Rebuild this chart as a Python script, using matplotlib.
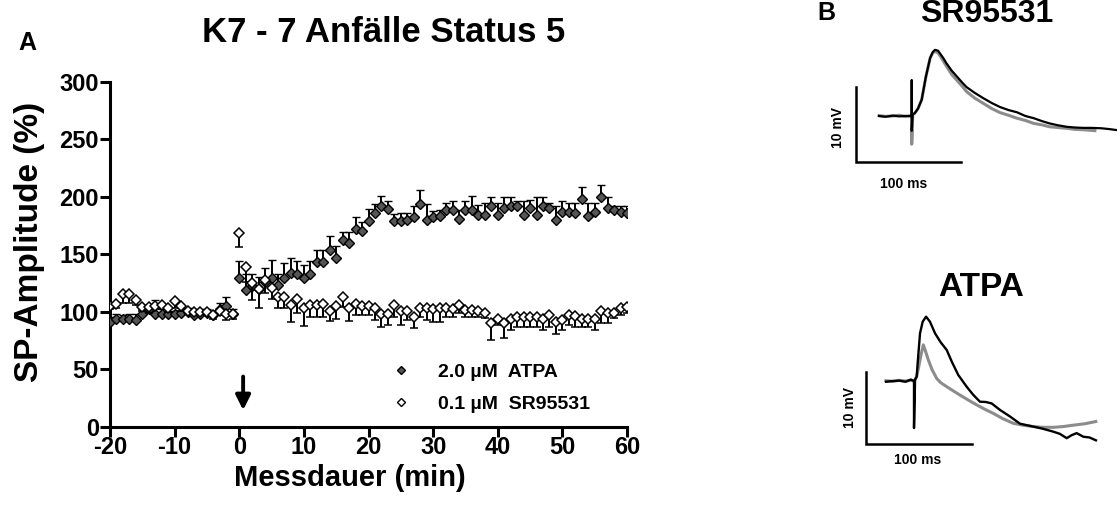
import matplotlib
matplotlib.use("Agg")
import matplotlib.pyplot as plt
from matplotlib.lines import Line2D
import numpy as np

plt.rcParams["font.family"] = ["Liberation Sans", "DejaVu Sans"]
plt.rcParams["font.weight"] = "bold"
plt.rcParams["axes.unicode_minus"] = False

# Zeitachse (min): Baseline -20..-1, danach 0..60
minuten = np.arange(-20, 61)

atpa_mw = [91, 94, 94, 94, 93, 98, 102, 98, 98, 98, 98, 99, 100, 97, 98, 99, 97, 102, 105, 98,
           129, 119, 122, 119.5, 126, 129, 123, 129, 134, 133, 129, 133, 143, 143.5, 154, 147,
           162, 160, 172, 170, 178.5, 186, 191.5, 189, 179, 179, 180, 182.6, 193.6, 179.5,
           182.6, 183, 188.6, 188, 181, 188, 188.6, 184, 184, 192, 184, 190, 192, 191.5, 184,
           190, 184, 191.5, 190, 180, 187, 187, 186, 198, 183, 187, 200, 190, 188, 187, 186]
atpa_sem = [4, 4, 3, 4, 5, 4, 4, 12, 4, 5, 3, 4, 3, 3, 4, 3, 3, 6, 8, 4,
            15, 14, 11, 10.5, 12, 16, 10, 13, 12.5, 11, 12, 11, 11, 10.5, 12, 10.5, 7, 9, 10,
            8, 10.5, 8, 9.5, 7, 6, 7, 6, 9, 12.5, 14, 5, 5, 5.5, 8, 7.7, 8, 11.6, 9, 10.5, 8,
            10.5, 10, 8, 4.5, 12, 7, 15.7, 8, 4.5, 11.6, 9, 7.5, 8.5, 10.4, 11.5, 7.5, 10.5,
            9.7, 3.6, 5, 6]

sr_mw = [105, 107, 115, 115, 110, 104, 104, 105, 106, 103, 109, 105, 101, 100, 100, 100, 97, 101, 98, 98,
         168, 139, 125, 120, 128, 121, 113, 112.5, 106, 111, 103, 106, 106, 107, 101, 105, 113,
         103, 107, 105, 105, 103, 98, 98, 106, 101, 101, 95.6, 103, 103, 102, 103, 103, 102,
         106, 101.5, 101.5, 101, 98.5, 90, 94, 90, 94, 95, 95, 95, 95, 94, 97, 91, 93, 97, 96,
         94, 94, 94, 101, 98.5, 98.5, 103, 104]
sr_sem = [3, 4, 7, 7, 4, 3, 5, 3, 4, 3, 6, 4, 3, 2, 2, 3, 3, 4, 5, 4,
          12, 13, 15, 17, 12, 10, 10, 9.5, 15, 12.5, 15, 11, 11, 12, 9, 11, 9, 11, 10, 8, 8,
          10, 11, 9.6, 10.4, 12.6, 8.3, 10, 7.4, 10.3, 10.7, 11.7, 7.4, 6.4, 7.5, 6, 6, 5.4,
          4.3, 15, 5.6, 13, 10, 8, 8, 8, 8, 10, 10, 10, 9, 8.6, 9, 7, 7, 10, 11, 8.7, 4.3, 6, 5]

legende = ["2.0 µM  ATPA", "0.1 µM  SR95531"]

# Beispielspuren (ms, mV), Reiz bei 0 ms
sr_dunkel_ms = [-31, -25, -18, -12, -6, -2, 0, 0, 0, 1, 3, 6, 9.5, 13.5, 17.5, 20, 22, 25, 27, 30,
                33, 38, 43, 48, 52, 60, 68, 76, 84, 92, 100, 108, 116, 124, 131, 139, 147, 155,
                163, 171, 180, 187, 195]
sr_dunkel_mv = [0, -0.1, 0.05, -0.05, 0, 0, 0, 4.8, -2, 0.2, 0.4, 1.0, 2.2, 5.3, 7.8, 8.6, 8.9,
                8.8, 8.4, 7.8, 7.1, 6.1, 5.3, 4.5, 3.9, 3.1, 2.4, 1.75, 1.2, 0.8, 0.5, 0.0, -0.3,
                -0.7, -1.0, -1.25, -1.45, -1.55, -1.6, -1.6, -1.65, -1.75, -1.9]
sr_grau_ms = [-31, -25, -18, -12, -6, -2, 0, 0, 1, 3, 6, 9.5, 13.5, 17.5, 20, 22, 25, 27, 30, 33,
              38, 43, 48, 52, 60, 68, 76, 84, 92, 100, 108, 116, 124, 131, 139, 147, 155, 163, 174]
sr_grau_mv = [0.05, -0.05, 0.0, 0.1, -0.05, 0, 0, -3.8, 0.2, 0.4, 1.0, 2.2, 5.3, 7.8, 8.5, 8.7,
              8.5, 8.1, 7.4, 6.7, 5.6, 4.8, 4.0, 3.3, 2.4, 1.7, 1.0, 0.45, 0.1, -0.3, -0.6, -1.0,
              -1.2, -1.45, -1.55, -1.65, -1.8, -1.85, -1.97]

atpa_dunkel_ms = [-26.5, -20, -14, -8, -3, 0, 0, 1, 2.5, 4, 5.7, 8.2, 11.4, 15.1, 19.9, 25, 30.9,
                  36, 41.9, 49.8, 56, 62.4, 68, 73.5, 81.4, 90.8, 100.3, 112.9, 122, 131.8, 138,
                  144.5, 149, 153.9, 160.2, 166, 172.2]
atpa_dunkel_mv = [-0.1, 0.0, 0.05, -0.1, 0.2, 0, -6.5, 0.2, 0.6, 3.5, 6.6, 8.2, 8.9, 8.2, 6.6,
                  5.4, 4.3, 2.6, 0.83, -0.78, -1.9, -2.86, -2.9, -3.1, -4.0, -4.9, -5.9, -6.3,
                  -6.6, -7.0, -7.3, -7.9, -7.5, -7.2, -7.7, -7.8, -8.2]
atpa_grau_ms = [-26.5, -20, -14, -8, -3, 0, 1, 2.5, 4.5, 6.3, 8.8, 10.5, 13.6, 17, 21.4, 25, 30.9,
                37, 43.5, 51, 59.3, 67, 75, 84, 94, 103, 113, 122, 132, 141, 151, 162, 172]
atpa_grau_mv = [0.05, -0.05, 0.1, 0.0, 0.1, 0, 0.2, 0.6, 2.0, 3.4, 5.0, 4.3, 2.9, 1.6, 0.37, -0.2,
                -0.78, -1.35, -1.94, -2.6, -3.3, -3.9, -4.47, -5.2, -5.85, -6.1, -6.3, -6.4,
                -6.4, -6.3, -6.1, -5.9, -5.6]

W, H = 1117, 508
fig = plt.figure(figsize=(W / 100, H / 100), dpi=100)

# --- A: Zeitverlauf ---
ax = fig.add_axes([110 / W, (H - 426.7) / H, 517 / W, 345 / H])
null_a = np.zeros(len(atpa_sem))
null_s = np.zeros(len(sr_sem))
ax.errorbar(minuten, atpa_mw, yerr=[null_a, atpa_sem], fmt="D", ms=4.8, mfc="#555555",
            mec="black", mew=1.0, ecolor="black", elinewidth=1.4, capsize=3, capthick=1.9,
            zorder=3)
ax.errorbar(minuten, sr_mw, yerr=[sr_sem, null_s], fmt="D", ms=4.8, mfc="white",
            mec="black", mew=1.1, ecolor="black", elinewidth=1.4, capsize=3, capthick=1.9,
            zorder=4)

ax.set_xlim(-20, 60)
ax.set_ylim(0, 300)
ax.set_xticks(range(-20, 61, 10))
ax.set_yticks(range(0, 301, 50))
for s in ["top", "right"]:
    ax.spines[s].set_visible(False)
for s in ["left", "bottom"]:
    ax.spines[s].set_linewidth(2.2)
ax.tick_params(width=2.2, length=7, labelsize=17, pad=1)
ax.tick_params(axis="x", pad=0)
ax.spines["left"].set_bounds(0, 300)

ax.annotate("", xy=(0.6, 12), xytext=(0.6, 46),
            arrowprops=dict(arrowstyle="-|>", lw=2.8, color="black", mutation_scale=22))

griffe = [Line2D([], [], marker="D", ls="none", ms=3.8, mfc="#555555", mec="black", mew=1.0),
          Line2D([], [], marker="D", ls="none", ms=3.8, mfc="white", mec="black", mew=1.0)]
ax.legend(griffe, legende, loc="lower right", bbox_to_anchor=(0.955, 0.0), frameon=False,
          prop={"weight": "bold", "size": 14}, handlelength=1.0, handletextpad=1.4,
          labelspacing=0.75, borderpad=0.2)

fig.text(27 / W, 1 - 43 / H, "A", ha="center", va="center", fontsize=18, weight="bold")
fig.text(384 / W, 1 - 33 / H, "K7 - 7 Anfälle Status 5", ha="center", va="center",
         fontsize=25, weight="bold")
fig.text(30 / W, 1 - 242 / H, "SP-Amplitude (%)", ha="center", va="center", rotation=90,
         fontsize=24, weight="bold")
fig.text(350 / W, 1 - 478 / H, "Messdauer (min)", ha="center", va="center",
         fontsize=21, weight="bold")

# --- B: Beispielspuren ---
def spuren_achse(box, xlim, ylim):
    a = fig.add_axes(box)
    a.set_xlim(*xlim)
    a.set_ylim(*ylim)
    a.axis("off")
    return a

b1 = spuren_achse([830 / W, (H - 190) / H, 287 / W, 150 / H], (-77.6, 195.0), (-9.96, 10.23))
b1.plot(sr_grau_ms, sr_grau_mv, color="#8c8c8c", lw=2.2, zorder=2)
b1.plot(sr_dunkel_ms, sr_dunkel_mv, color="black", lw=1.6, zorder=3)
b1.plot([-53.2, -53.2, 46.8], [3.85, -6.15, -6.15], color="black", lw=1.8, solid_joinstyle="miter")
b1.text(-70, -1.5, "10 mV", rotation=90, ha="center", va="center", fontsize=10, weight="bold")
b1.text(-8, -8.2, "100 ms", ha="center", va="top", fontsize=10, weight="bold")

b2 = spuren_achse([830 / W, (H - 470) / H, 287 / W, 170 / H], (-79.5, 192.1), (-12.3, 11.2))
b2.plot(atpa_grau_ms, atpa_grau_mv, color="#8c8c8c", lw=2.2, zorder=2)
b2.plot(atpa_dunkel_ms, atpa_dunkel_mv, color="black", lw=1.7, zorder=3)
b2.plot([-45.4, -45.4, 54.6], [1.29, -8.71, -8.71], color="black", lw=1.8, solid_joinstyle="miter")
b2.text(-60.5, -3.6, "10 mV", rotation=90, ha="center", va="center", fontsize=10, weight="bold")
b2.text(3.8, -9.9, "100 ms", ha="center", va="top", fontsize=10, weight="bold")

fig.text(826 / W, 1 - 13 / H, "B", ha="center", va="center", fontsize=18, weight="bold")
fig.text(987 / W, 1 - 14 / H, "SR95531", ha="center", va="center", fontsize=23, weight="bold")
fig.text(981 / W, 1 - 287 / H, "ATPA", ha="center", va="center", fontsize=24, weight="bold")

fig.savefig("out.png", dpi=100, facecolor="white")
